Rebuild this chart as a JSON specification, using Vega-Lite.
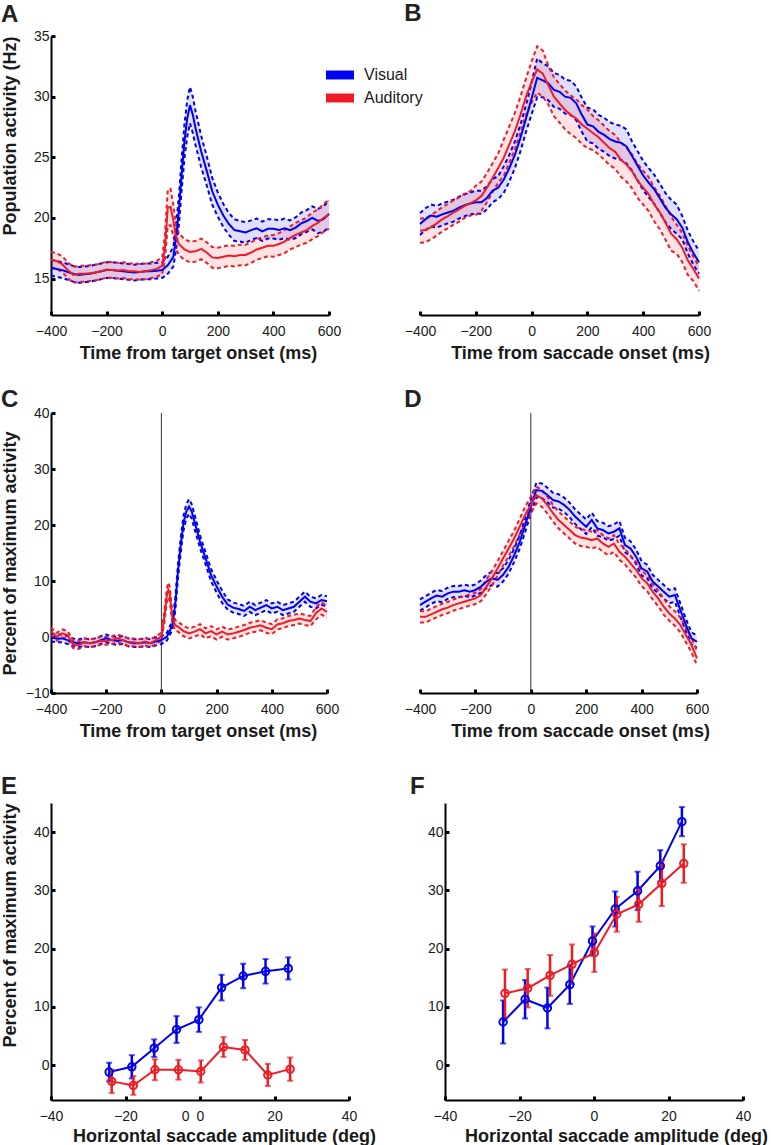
{
"$schema":"https://vega.github.io/schema/vega-lite/v6.json",
"background":"white",
"padding":{"left":0,"top":2,"right":5,"bottom":2},
"config":{
 "font":"Liberation Sans",
 "view":{"stroke":null},
 "axis":{"grid":false,"domainColor":"#000","domainWidth":2,"tickColor":"#000","tickWidth":3,"tickSize":-4,"labelFont":"Liberation Sans","labelFontSize":14,"labelColor":"#1a1a1a","titleFont":"Liberation Sans","titleFontSize":18,"titleFontWeight":"bold","titleColor":"#1a1a1a","labelFlush":false,"labelOverlap":false},
 "axisX":{"labelPadding":13,"titlePadding":6},
 "axisY":{"labelPadding":6,"titlePadding":6,"minExtent":26,"maxExtent":26},
 "title":{"font":"Liberation Sans","fontSize":24,"fontWeight":"bold","color":"#222","anchor":"start","frame":"bounds"}
},
"datasets":{
"A":[
{"c":"Visual","t":-400,"m":15.9,"s":0.65},{"c":"Visual","t":-380,"m":15.8,"s":0.65},{"c":"Visual","t":-360,"m":15.7,"s":0.65},{"c":"Visual","t":-340,"m":15.55,"s":0.65},{"c":"Visual","t":-320,"m":15.4,"s":0.65},{"c":"Visual","t":-300,"m":15.3,"s":0.65},{"c":"Visual","t":-280,"m":15.35,"s":0.65},{"c":"Visual","t":-260,"m":15.4,"s":0.65},{"c":"Visual","t":-240,"m":15.5,"s":0.65},{"c":"Visual","t":-220,"m":15.6,"s":0.65},{"c":"Visual","t":-200,"m":15.7,"s":0.65},{"c":"Visual","t":-180,"m":15.7,"s":0.65},{"c":"Visual","t":-160,"m":15.65,"s":0.65},{"c":"Visual","t":-140,"m":15.6,"s":0.65},{"c":"Visual","t":-120,"m":15.55,"s":0.65},{"c":"Visual","t":-100,"m":15.5,"s":0.65},{"c":"Visual","t":-80,"m":15.55,"s":0.65},{"c":"Visual","t":-60,"m":15.6,"s":0.65},{"c":"Visual","t":-40,"m":15.6,"s":0.65},{"c":"Visual","t":-20,"m":15.65,"s":0.65},{"c":"Visual","t":0,"m":15.7,"s":0.65},{"c":"Visual","t":20,"m":16.1,"s":0.7},{"c":"Visual","t":40,"m":16.8,"s":0.8},{"c":"Visual","t":50,"m":18.4,"s":1.0},{"c":"Visual","t":60,"m":20.6,"s":1.2},{"c":"Visual","t":70,"m":23.6,"s":1.3},{"c":"Visual","t":80,"m":26.3,"s":1.4},{"c":"Visual","t":90,"m":28.2,"s":1.5},{"c":"Visual","t":100,"m":29.3,"s":1.5},{"c":"Visual","t":110,"m":28.5,"s":1.5},{"c":"Visual","t":120,"m":27.4,"s":1.4},{"c":"Visual","t":140,"m":25.5,"s":1.3},{"c":"Visual","t":160,"m":23.9,"s":1.2},{"c":"Visual","t":180,"m":22.2,"s":1.1},{"c":"Visual","t":200,"m":21.1,"s":1.0},{"c":"Visual","t":220,"m":20.2,"s":0.95},{"c":"Visual","t":240,"m":19.5,"s":0.9},{"c":"Visual","t":260,"m":19.0,"s":0.9},{"c":"Visual","t":280,"m":18.9,"s":0.85},{"c":"Visual","t":300,"m":18.8,"s":0.85},{"c":"Visual","t":320,"m":19.0,"s":0.8},{"c":"Visual","t":340,"m":19.15,"s":0.8},{"c":"Visual","t":360,"m":18.9,"s":0.8},{"c":"Visual","t":380,"m":19.1,"s":0.8},{"c":"Visual","t":400,"m":19.1,"s":0.8},{"c":"Visual","t":420,"m":19.0,"s":0.8},{"c":"Visual","t":440,"m":19.15,"s":0.8},{"c":"Visual","t":460,"m":19.0,"s":0.8},{"c":"Visual","t":480,"m":19.2,"s":0.85},{"c":"Visual","t":500,"m":19.55,"s":0.9},{"c":"Visual","t":520,"m":19.75,"s":0.9},{"c":"Visual","t":540,"m":20.0,"s":0.95},{"c":"Visual","t":560,"m":19.75,"s":1.0},{"c":"Visual","t":580,"m":19.9,"s":1.05},{"c":"Visual","t":600,"m":20.35,"s":1.1},
{"c":"Auditory","t":-400,"m":16.55,"s":0.65},{"c":"Auditory","t":-380,"m":16.45,"s":0.65},{"c":"Auditory","t":-360,"m":16.2,"s":0.65},{"c":"Auditory","t":-340,"m":15.7,"s":0.65},{"c":"Auditory","t":-320,"m":15.3,"s":0.65},{"c":"Auditory","t":-300,"m":15.4,"s":0.65},{"c":"Auditory","t":-280,"m":15.4,"s":0.65},{"c":"Auditory","t":-260,"m":15.45,"s":0.65},{"c":"Auditory","t":-240,"m":15.5,"s":0.65},{"c":"Auditory","t":-220,"m":15.6,"s":0.65},{"c":"Auditory","t":-200,"m":15.75,"s":0.65},{"c":"Auditory","t":-180,"m":15.7,"s":0.65},{"c":"Auditory","t":-160,"m":15.65,"s":0.65},{"c":"Auditory","t":-140,"m":15.7,"s":0.65},{"c":"Auditory","t":-120,"m":15.6,"s":0.65},{"c":"Auditory","t":-100,"m":15.6,"s":0.65},{"c":"Auditory","t":-80,"m":15.55,"s":0.65},{"c":"Auditory","t":-60,"m":15.6,"s":0.65},{"c":"Auditory","t":-40,"m":15.7,"s":0.65},{"c":"Auditory","t":-20,"m":15.8,"s":0.65},{"c":"Auditory","t":0,"m":16.05,"s":0.7},{"c":"Auditory","t":10,"m":17.6,"s":1.0},{"c":"Auditory","t":20,"m":20.85,"s":1.5},{"c":"Auditory","t":30,"m":20.9,"s":1.5},{"c":"Auditory","t":40,"m":19.8,"s":1.3},{"c":"Auditory","t":50,"m":18.4,"s":1.0},{"c":"Auditory","t":60,"m":17.85,"s":0.9},{"c":"Auditory","t":80,"m":17.4,"s":0.85},{"c":"Auditory","t":100,"m":17.2,"s":0.85},{"c":"Auditory","t":120,"m":17.25,"s":0.85},{"c":"Auditory","t":140,"m":17.45,"s":0.85},{"c":"Auditory","t":160,"m":17.15,"s":0.85},{"c":"Auditory","t":180,"m":16.75,"s":0.85},{"c":"Auditory","t":200,"m":16.7,"s":0.85},{"c":"Auditory","t":220,"m":16.8,"s":0.85},{"c":"Auditory","t":240,"m":16.9,"s":0.85},{"c":"Auditory","t":260,"m":16.85,"s":0.85},{"c":"Auditory","t":280,"m":16.95,"s":0.85},{"c":"Auditory","t":300,"m":16.95,"s":0.85},{"c":"Auditory","t":320,"m":17.15,"s":0.85},{"c":"Auditory","t":340,"m":17.4,"s":0.85},{"c":"Auditory","t":360,"m":17.55,"s":0.85},{"c":"Auditory","t":380,"m":17.7,"s":0.85},{"c":"Auditory","t":400,"m":17.7,"s":0.9},{"c":"Auditory","t":420,"m":17.85,"s":0.9},{"c":"Auditory","t":440,"m":18.05,"s":0.95},{"c":"Auditory","t":460,"m":18.35,"s":0.95},{"c":"Auditory","t":480,"m":18.6,"s":1.0},{"c":"Auditory","t":500,"m":18.8,"s":1.0},{"c":"Auditory","t":520,"m":19.0,"s":1.05},{"c":"Auditory","t":540,"m":19.35,"s":1.1},{"c":"Auditory","t":560,"m":19.6,"s":1.1},{"c":"Auditory","t":580,"m":20.0,"s":1.15},{"c":"Auditory","t":600,"m":20.3,"s":1.2}
],
"B":[
{"c":"Visual","t":-400,"m":19.5,"s":0.9},{"c":"Visual","t":-380,"m":19.9,"s":0.9},{"c":"Visual","t":-360,"m":20.2,"s":0.9},{"c":"Visual","t":-340,"m":20.1,"s":0.9},{"c":"Visual","t":-320,"m":20.3,"s":0.9},{"c":"Visual","t":-300,"m":20.45,"s":0.9},{"c":"Visual","t":-280,"m":20.6,"s":0.9},{"c":"Visual","t":-260,"m":20.85,"s":0.9},{"c":"Visual","t":-240,"m":21.05,"s":0.9},{"c":"Visual","t":-220,"m":21.2,"s":0.9},{"c":"Visual","t":-200,"m":21.3,"s":0.95},{"c":"Visual","t":-180,"m":21.3,"s":0.95},{"c":"Visual","t":-160,"m":21.65,"s":0.95},{"c":"Visual","t":-140,"m":22.25,"s":0.95},{"c":"Visual","t":-120,"m":22.5,"s":0.95},{"c":"Visual","t":-100,"m":23.15,"s":1.1},{"c":"Visual","t":-80,"m":24.1,"s":1.1},{"c":"Visual","t":-60,"m":25.2,"s":1.1},{"c":"Visual","t":-40,"m":26.6,"s":1.1},{"c":"Visual","t":-20,"m":28.2,"s":1.1},{"c":"Visual","t":0,"m":29.85,"s":1.3},{"c":"Visual","t":20,"m":31.55,"s":1.6},{"c":"Visual","t":40,"m":31.35,"s":1.4},{"c":"Visual","t":60,"m":31.1,"s":1.4},{"c":"Visual","t":80,"m":30.55,"s":1.4},{"c":"Visual","t":100,"m":30.4,"s":1.4},{"c":"Visual","t":120,"m":30.0,"s":1.4},{"c":"Visual","t":140,"m":29.9,"s":1.4},{"c":"Visual","t":160,"m":29.45,"s":1.4},{"c":"Visual","t":180,"m":28.5,"s":1.4},{"c":"Visual","t":200,"m":27.7,"s":1.4},{"c":"Visual","t":220,"m":27.55,"s":1.4},{"c":"Visual","t":240,"m":27.1,"s":1.4},{"c":"Visual","t":260,"m":26.85,"s":1.4},{"c":"Visual","t":280,"m":26.5,"s":1.4},{"c":"Visual","t":300,"m":26.3,"s":1.4},{"c":"Visual","t":320,"m":26.2,"s":1.4},{"c":"Visual","t":340,"m":25.9,"s":1.4},{"c":"Visual","t":360,"m":25.1,"s":1.2},{"c":"Visual","t":380,"m":24.3,"s":1.2},{"c":"Visual","t":400,"m":23.5,"s":1.2},{"c":"Visual","t":420,"m":22.9,"s":1.2},{"c":"Visual","t":440,"m":22.35,"s":1.2},{"c":"Visual","t":460,"m":21.6,"s":1.2},{"c":"Visual","t":480,"m":20.85,"s":1.2},{"c":"Visual","t":500,"m":20.3,"s":1.2},{"c":"Visual","t":520,"m":19.9,"s":1.2},{"c":"Visual","t":540,"m":19.2,"s":0.95},{"c":"Visual","t":560,"m":18.0,"s":0.95},{"c":"Visual","t":580,"m":17.1,"s":0.95},{"c":"Visual","t":600,"m":16.35,"s":0.95},
{"c":"Auditory","t":-400,"m":18.95,"s":1.0},{"c":"Auditory","t":-380,"m":19.0,"s":1.0},{"c":"Auditory","t":-360,"m":19.25,"s":1.0},{"c":"Auditory","t":-340,"m":19.55,"s":1.0},{"c":"Auditory","t":-320,"m":19.9,"s":1.0},{"c":"Auditory","t":-300,"m":20.15,"s":1.0},{"c":"Auditory","t":-280,"m":20.45,"s":1.0},{"c":"Auditory","t":-260,"m":20.7,"s":1.0},{"c":"Auditory","t":-240,"m":21.0,"s":1.0},{"c":"Auditory","t":-220,"m":21.2,"s":1.0},{"c":"Auditory","t":-200,"m":21.45,"s":1.2},{"c":"Auditory","t":-180,"m":21.8,"s":1.2},{"c":"Auditory","t":-160,"m":22.5,"s":1.2},{"c":"Auditory","t":-140,"m":23.3,"s":1.2},{"c":"Auditory","t":-120,"m":24.1,"s":1.2},{"c":"Auditory","t":-100,"m":24.95,"s":1.5},{"c":"Auditory","t":-80,"m":26.05,"s":1.5},{"c":"Auditory","t":-60,"m":27.15,"s":1.5},{"c":"Auditory","t":-40,"m":28.5,"s":1.5},{"c":"Auditory","t":-20,"m":30.0,"s":1.5},{"c":"Auditory","t":0,"m":31.2,"s":1.7},{"c":"Auditory","t":20,"m":32.25,"s":1.9},{"c":"Auditory","t":40,"m":31.9,"s":1.9},{"c":"Auditory","t":60,"m":30.95,"s":1.6},{"c":"Auditory","t":80,"m":30.0,"s":1.6},{"c":"Auditory","t":100,"m":29.45,"s":1.6},{"c":"Auditory","t":120,"m":28.9,"s":1.6},{"c":"Auditory","t":140,"m":28.5,"s":1.6},{"c":"Auditory","t":160,"m":28.2,"s":1.6},{"c":"Auditory","t":180,"m":27.7,"s":1.6},{"c":"Auditory","t":200,"m":27.35,"s":1.6},{"c":"Auditory","t":220,"m":27.0,"s":1.4},{"c":"Auditory","t":240,"m":26.65,"s":1.4},{"c":"Auditory","t":260,"m":26.2,"s":1.4},{"c":"Auditory","t":280,"m":25.75,"s":1.4},{"c":"Auditory","t":300,"m":25.45,"s":1.4},{"c":"Auditory","t":320,"m":24.8,"s":1.4},{"c":"Auditory","t":340,"m":24.4,"s":1.4},{"c":"Auditory","t":360,"m":23.85,"s":1.4},{"c":"Auditory","t":380,"m":23.05,"s":1.4},{"c":"Auditory","t":400,"m":22.5,"s":1.4},{"c":"Auditory","t":420,"m":21.95,"s":1.4},{"c":"Auditory","t":440,"m":21.1,"s":1.4},{"c":"Auditory","t":460,"m":20.45,"s":1.4},{"c":"Auditory","t":480,"m":19.6,"s":1.4},{"c":"Auditory","t":500,"m":18.7,"s":1.4},{"c":"Auditory","t":520,"m":18.25,"s":1.2},{"c":"Auditory","t":540,"m":17.55,"s":1.2},{"c":"Auditory","t":560,"m":16.5,"s":1.2},{"c":"Auditory","t":580,"m":15.8,"s":1.0},{"c":"Auditory","t":600,"m":15.0,"s":1.0}
],
"C":[
{"c":"Visual","t":-400,"m":-0.1,"s":0.7},{"c":"Visual","t":-380,"m":-0.25,"s":0.7},{"c":"Visual","t":-360,"m":-0.25,"s":0.7},{"c":"Visual","t":-340,"m":-0.55,"s":0.7},{"c":"Visual","t":-320,"m":-0.95,"s":0.7},{"c":"Visual","t":-300,"m":-1.1,"s":0.7},{"c":"Visual","t":-280,"m":-0.95,"s":0.7},{"c":"Visual","t":-260,"m":-1.1,"s":0.7},{"c":"Visual","t":-240,"m":-0.95,"s":0.7},{"c":"Visual","t":-220,"m":-0.55,"s":0.7},{"c":"Visual","t":-200,"m":-0.25,"s":0.7},{"c":"Visual","t":-180,"m":-0.55,"s":0.7},{"c":"Visual","t":-160,"m":-0.7,"s":0.7},{"c":"Visual","t":-140,"m":-0.55,"s":0.7},{"c":"Visual","t":-120,"m":-0.95,"s":0.7},{"c":"Visual","t":-100,"m":-1.1,"s":0.7},{"c":"Visual","t":-80,"m":-1.1,"s":0.7},{"c":"Visual","t":-60,"m":-0.95,"s":0.7},{"c":"Visual","t":-40,"m":-1.1,"s":0.7},{"c":"Visual","t":-20,"m":-0.8,"s":0.7},{"c":"Visual","t":0,"m":-0.55,"s":0.7},{"c":"Visual","t":20,"m":0.05,"s":0.7},{"c":"Visual","t":40,"m":2.1,"s":0.8},{"c":"Visual","t":50,"m":5.7,"s":1.1},{"c":"Visual","t":60,"m":11.7,"s":1.3},{"c":"Visual","t":70,"m":16.4,"s":1.3},{"c":"Visual","t":80,"m":20.3,"s":1.3},{"c":"Visual","t":90,"m":22.4,"s":1.3},{"c":"Visual","t":100,"m":23.3,"s":1.3},{"c":"Visual","t":110,"m":22.4,"s":1.3},{"c":"Visual","t":120,"m":20.6,"s":1.3},{"c":"Visual","t":140,"m":17.0,"s":1.1},{"c":"Visual","t":160,"m":14.05,"s":1.1},{"c":"Visual","t":180,"m":11.05,"s":1.1},{"c":"Visual","t":200,"m":9.0,"s":1.1},{"c":"Visual","t":220,"m":7.2,"s":1.1},{"c":"Visual","t":240,"m":5.8,"s":0.9},{"c":"Visual","t":260,"m":5.25,"s":0.9},{"c":"Visual","t":280,"m":5.0,"s":0.9},{"c":"Visual","t":300,"m":4.65,"s":0.9},{"c":"Visual","t":320,"m":5.4,"s":0.9},{"c":"Visual","t":340,"m":4.8,"s":0.9},{"c":"Visual","t":360,"m":5.25,"s":0.9},{"c":"Visual","t":380,"m":5.7,"s":0.9},{"c":"Visual","t":400,"m":5.1,"s":0.9},{"c":"Visual","t":420,"m":5.4,"s":0.9},{"c":"Visual","t":440,"m":4.8,"s":0.9},{"c":"Visual","t":460,"m":5.1,"s":0.9},{"c":"Visual","t":480,"m":5.4,"s":0.9},{"c":"Visual","t":500,"m":6.3,"s":0.9},{"c":"Visual","t":520,"m":7.2,"s":0.9},{"c":"Visual","t":540,"m":6.3,"s":0.9},{"c":"Visual","t":560,"m":6.0,"s":0.9},{"c":"Visual","t":580,"m":6.6,"s":0.9},{"c":"Visual","t":600,"m":6.4,"s":0.9},
{"c":"Auditory","t":-400,"m":1.0,"s":0.7},{"c":"Auditory","t":-380,"m":0.05,"s":0.7},{"c":"Auditory","t":-360,"m":0.65,"s":0.7},{"c":"Auditory","t":-340,"m":0.35,"s":0.7},{"c":"Auditory","t":-320,"m":-1.3,"s":0.7},{"c":"Auditory","t":-300,"m":-1.45,"s":0.7},{"c":"Auditory","t":-280,"m":-0.95,"s":0.7},{"c":"Auditory","t":-260,"m":-1.1,"s":0.7},{"c":"Auditory","t":-240,"m":-0.95,"s":0.7},{"c":"Auditory","t":-220,"m":-0.7,"s":0.7},{"c":"Auditory","t":-200,"m":-0.7,"s":0.7},{"c":"Auditory","t":-180,"m":-0.55,"s":0.7},{"c":"Auditory","t":-160,"m":-0.25,"s":0.7},{"c":"Auditory","t":-140,"m":-0.55,"s":0.7},{"c":"Auditory","t":-120,"m":-0.95,"s":0.7},{"c":"Auditory","t":-100,"m":-0.95,"s":0.7},{"c":"Auditory","t":-80,"m":-1.1,"s":0.7},{"c":"Auditory","t":-60,"m":-0.8,"s":0.7},{"c":"Auditory","t":-40,"m":-1.1,"s":0.7},{"c":"Auditory","t":-20,"m":-0.55,"s":0.7},{"c":"Auditory","t":0,"m":0.05,"s":0.7},{"c":"Auditory","t":10,"m":3.3,"s":1.0},{"c":"Auditory","t":20,"m":7.5,"s":1.2},{"c":"Auditory","t":25,"m":8.4,"s":1.3},{"c":"Auditory","t":30,"m":7.8,"s":1.2},{"c":"Auditory","t":40,"m":3.3,"s":1.0},{"c":"Auditory","t":50,"m":2.1,"s":0.9},{"c":"Auditory","t":60,"m":1.85,"s":0.9},{"c":"Auditory","t":80,"m":1.05,"s":0.9},{"c":"Auditory","t":100,"m":0.65,"s":0.9},{"c":"Auditory","t":120,"m":0.95,"s":0.9},{"c":"Auditory","t":140,"m":1.4,"s":0.9},{"c":"Auditory","t":160,"m":0.65,"s":0.9},{"c":"Auditory","t":180,"m":1.05,"s":0.9},{"c":"Auditory","t":200,"m":0.45,"s":0.9},{"c":"Auditory","t":220,"m":0.95,"s":0.9},{"c":"Auditory","t":240,"m":0.45,"s":0.9},{"c":"Auditory","t":260,"m":0.65,"s":0.9},{"c":"Auditory","t":280,"m":0.95,"s":0.9},{"c":"Auditory","t":300,"m":1.25,"s":0.9},{"c":"Auditory","t":320,"m":1.65,"s":0.9},{"c":"Auditory","t":340,"m":1.85,"s":0.9},{"c":"Auditory","t":360,"m":2.1,"s":0.9},{"c":"Auditory","t":380,"m":1.65,"s":0.9},{"c":"Auditory","t":400,"m":1.4,"s":0.9},{"c":"Auditory","t":420,"m":2.25,"s":0.9},{"c":"Auditory","t":440,"m":2.45,"s":0.9},{"c":"Auditory","t":460,"m":2.85,"s":0.9},{"c":"Auditory","t":480,"m":3.05,"s":0.9},{"c":"Auditory","t":500,"m":3.3,"s":0.9},{"c":"Auditory","t":520,"m":3.05,"s":0.9},{"c":"Auditory","t":540,"m":2.85,"s":0.9},{"c":"Auditory","t":560,"m":4.25,"s":1.1},{"c":"Auditory","t":580,"m":5.1,"s":1.1},{"c":"Auditory","t":600,"m":4.5,"s":1.1}
],
"D":[
{"c":"Visual","t":-400,"m":5.7,"s":1.0},{"c":"Visual","t":-380,"m":6.3,"s":1.0},{"c":"Visual","t":-360,"m":6.9,"s":1.0},{"c":"Visual","t":-340,"m":7.4,"s":1.0},{"c":"Visual","t":-320,"m":7.2,"s":1.0},{"c":"Visual","t":-300,"m":7.8,"s":1.0},{"c":"Visual","t":-280,"m":8.1,"s":1.0},{"c":"Visual","t":-260,"m":8.1,"s":1.0},{"c":"Visual","t":-240,"m":8.35,"s":1.0},{"c":"Visual","t":-220,"m":8.1,"s":1.0},{"c":"Visual","t":-200,"m":8.4,"s":1.0},{"c":"Visual","t":-180,"m":9.0,"s":1.1},{"c":"Visual","t":-160,"m":9.9,"s":1.2},{"c":"Visual","t":-140,"m":10.5,"s":1.2},{"c":"Visual","t":-120,"m":10.2,"s":1.2},{"c":"Visual","t":-100,"m":11.1,"s":1.2},{"c":"Visual","t":-80,"m":12.55,"s":1.2},{"c":"Visual","t":-60,"m":14.6,"s":1.2},{"c":"Visual","t":-40,"m":17.0,"s":1.2},{"c":"Visual","t":-20,"m":20.0,"s":1.2},{"c":"Visual","t":0,"m":23.3,"s":1.3},{"c":"Visual","t":20,"m":26.25,"s":1.3},{"c":"Visual","t":40,"m":26.1,"s":1.3},{"c":"Visual","t":60,"m":25.35,"s":1.3},{"c":"Visual","t":80,"m":24.45,"s":1.3},{"c":"Visual","t":100,"m":24.2,"s":1.3},{"c":"Visual","t":120,"m":23.6,"s":1.3},{"c":"Visual","t":140,"m":22.7,"s":1.3},{"c":"Visual","t":160,"m":21.5,"s":1.3},{"c":"Visual","t":180,"m":20.6,"s":1.3},{"c":"Visual","t":200,"m":19.7,"s":1.3},{"c":"Visual","t":220,"m":20.9,"s":1.3},{"c":"Visual","t":240,"m":19.4,"s":1.3},{"c":"Visual","t":260,"m":19.1,"s":1.3},{"c":"Visual","t":280,"m":18.5,"s":1.3},{"c":"Visual","t":300,"m":18.8,"s":1.3},{"c":"Visual","t":320,"m":19.4,"s":1.3},{"c":"Visual","t":340,"m":16.4,"s":1.3},{"c":"Visual","t":360,"m":15.8,"s":1.3},{"c":"Visual","t":380,"m":14.35,"s":1.3},{"c":"Visual","t":400,"m":12.25,"s":1.3},{"c":"Visual","t":420,"m":11.7,"s":1.2},{"c":"Visual","t":440,"m":9.9,"s":1.2},{"c":"Visual","t":460,"m":9.0,"s":1.2},{"c":"Visual","t":480,"m":8.1,"s":1.2},{"c":"Visual","t":500,"m":7.2,"s":1.2},{"c":"Visual","t":520,"m":7.5,"s":1.2},{"c":"Visual","t":540,"m":4.8,"s":1.2},{"c":"Visual","t":560,"m":2.15,"s":1.1},{"c":"Visual","t":580,"m":-0.25,"s":1.1},{"c":"Visual","t":600,"m":-0.85,"s":1.1},
{"c":"Auditory","t":-400,"m":3.6,"s":1.0},{"c":"Auditory","t":-380,"m":3.6,"s":1.0},{"c":"Auditory","t":-360,"m":4.05,"s":1.0},{"c":"Auditory","t":-340,"m":4.5,"s":1.0},{"c":"Auditory","t":-320,"m":4.95,"s":1.0},{"c":"Auditory","t":-300,"m":5.25,"s":1.0},{"c":"Auditory","t":-280,"m":5.7,"s":1.0},{"c":"Auditory","t":-260,"m":6.0,"s":1.0},{"c":"Auditory","t":-240,"m":6.3,"s":1.0},{"c":"Auditory","t":-220,"m":6.6,"s":1.0},{"c":"Auditory","t":-200,"m":6.9,"s":1.0},{"c":"Auditory","t":-180,"m":7.5,"s":1.1},{"c":"Auditory","t":-160,"m":9.0,"s":1.3},{"c":"Auditory","t":-140,"m":10.5,"s":1.3},{"c":"Auditory","t":-120,"m":12.25,"s":1.3},{"c":"Auditory","t":-100,"m":14.05,"s":1.3},{"c":"Auditory","t":-80,"m":15.8,"s":1.4},{"c":"Auditory","t":-60,"m":17.6,"s":1.4},{"c":"Auditory","t":-40,"m":19.7,"s":1.4},{"c":"Auditory","t":-20,"m":21.8,"s":1.5},{"c":"Auditory","t":0,"m":23.55,"s":1.5},{"c":"Auditory","t":20,"m":25.35,"s":1.5},{"c":"Auditory","t":40,"m":24.75,"s":1.5},{"c":"Auditory","t":60,"m":23.55,"s":1.5},{"c":"Auditory","t":80,"m":22.1,"s":1.5},{"c":"Auditory","t":100,"m":20.9,"s":1.5},{"c":"Auditory","t":120,"m":20.0,"s":1.5},{"c":"Auditory","t":140,"m":19.1,"s":1.5},{"c":"Auditory","t":160,"m":18.2,"s":1.5},{"c":"Auditory","t":180,"m":17.75,"s":1.5},{"c":"Auditory","t":200,"m":17.6,"s":1.5},{"c":"Auditory","t":220,"m":17.3,"s":1.5},{"c":"Auditory","t":240,"m":17.6,"s":1.5},{"c":"Auditory","t":260,"m":16.7,"s":1.5},{"c":"Auditory","t":280,"m":16.1,"s":1.5},{"c":"Auditory","t":300,"m":16.7,"s":1.5},{"c":"Auditory","t":320,"m":15.2,"s":1.4},{"c":"Auditory","t":340,"m":14.35,"s":1.4},{"c":"Auditory","t":360,"m":13.15,"s":1.4},{"c":"Auditory","t":380,"m":12.0,"s":1.4},{"c":"Auditory","t":400,"m":10.5,"s":1.4},{"c":"Auditory","t":420,"m":9.6,"s":1.4},{"c":"Auditory","t":440,"m":8.1,"s":1.4},{"c":"Auditory","t":460,"m":6.9,"s":1.4},{"c":"Auditory","t":480,"m":5.4,"s":1.4},{"c":"Auditory","t":500,"m":4.2,"s":1.3},{"c":"Auditory","t":520,"m":3.3,"s":1.3},{"c":"Auditory","t":540,"m":2.15,"s":1.3},{"c":"Auditory","t":560,"m":0.35,"s":1.3},{"c":"Auditory","t":580,"m":-1.4,"s":1.3},{"c":"Auditory","t":600,"m":-3.8,"s":1.3}
],
"E":[
{"c":"Visual","x":-24.4,"m":-1.2,"s":1.6},{"c":"Visual","x":-18.3,"m":-0.3,"s":2.0},{"c":"Visual","x":-12.3,"m":2.9,"s":1.5},{"c":"Visual","x":-6.3,"m":6.1,"s":2.3},{"c":"Visual","x":-0.3,"m":7.8,"s":2.1},{"c":"Visual","x":5.8,"m":13.3,"s":2.2},{"c":"Visual","x":11.6,"m":15.3,"s":2.1},{"c":"Visual","x":17.6,"m":16.1,"s":2.1},{"c":"Visual","x":23.7,"m":16.6,"s":1.9},
{"c":"Auditory","x":-23.7,"m":-2.8,"s":2.0},{"c":"Auditory","x":-17.9,"m":-3.5,"s":1.6},{"c":"Auditory","x":-12.1,"m":-0.8,"s":1.8},{"c":"Auditory","x":-5.8,"m":-0.8,"s":1.7},{"c":"Auditory","x":0.2,"m":-1.1,"s":1.9},{"c":"Auditory","x":6.3,"m":3.1,"s":1.7},{"c":"Auditory","x":12.1,"m":2.6,"s":1.7},{"c":"Auditory","x":18.2,"m":-1.7,"s":1.9},{"c":"Auditory","x":24.2,"m":-0.7,"s":2.0}
],
"F":[
{"c":"Visual","x":-24.4,"m":7.4,"s":3.7},{"c":"Visual","x":-18.5,"m":11.3,"s":3.3},{"c":"Visual","x":-12.5,"m":9.8,"s":3.5},{"c":"Visual","x":-6.5,"m":13.8,"s":3.3},{"c":"Visual","x":-0.4,"m":21.3,"s":2.5},{"c":"Visual","x":5.7,"m":26.8,"s":3.0},{"c":"Visual","x":11.7,"m":29.9,"s":3.3},{"c":"Visual","x":17.8,"m":34.2,"s":2.7},{"c":"Visual","x":23.6,"m":41.8,"s":2.5},
{"c":"Auditory","x":-23.9,"m":12.3,"s":4.1},{"c":"Auditory","x":-17.8,"m":13.2,"s":3.3},{"c":"Auditory","x":-11.8,"m":15.4,"s":3.5},{"c":"Auditory","x":-5.9,"m":17.3,"s":3.4},{"c":"Auditory","x":0.1,"m":19.3,"s":3.3},{"c":"Auditory","x":6.1,"m":25.9,"s":3.0},{"c":"Auditory","x":12.0,"m":27.6,"s":3.0},{"c":"Auditory","x":18.2,"m":31.2,"s":3.9},{"c":"Auditory","x":24.1,"m":34.6,"s":3.3}
]
},
"vconcat":[
 {"vconcat":[
  {"hconcat":[
   {"width":278,"height":279,"title":{"text":"A","offset":2},"data":{"name":"A"},
    "layer":[
     {"mark":{"type":"errorband","band":{"opacity":0.12},"borders":{"strokeDash":[4,3],"strokeWidth":2}},
      "encoding":{
       "x":{"field":"t","type":"quantitative","scale":{"domain":[-400,600],"nice":false},"axis":{"title":"Time from target onset (ms)","values":[-400,-200,0,200,400,600],"titleX":147}},
       "y":{"field":"m","type":"quantitative","scale":{"domain":[12,35],"nice":false},"axis":{"title":"Population activity (Hz)","values":[15,20,25,30,35],"titleAnchor":"end"}},
       "yError":{"field":"s"},
       "color":{"field":"c","type":"nominal","scale":{"domain":["Visual","Auditory"],"range":["#0000f0","#ee1c24"]},
        "legend":{"orient":"none","legendX":281,"legendY":31,"title":null,"padding":0,"symbolType":"M-2,-0.64H2V0.64H-2Z","symbolSize":196,"symbolStrokeWidth":0,"symbolOpacity":1,"labelFont":"Liberation Sans","labelFontSize":16,"labelColor":"#1a1a1a","labelOffset":16,"rowPadding":7,
         "encode":{"symbols":{"update":{"fill":{"signal":"datum.value === 'Visual' ? '#0000f0' : '#ee1c24'"},"stroke":{"value":"transparent"},"opacity":{"value":1}}}}}}
      }},
     {"mark":{"type":"line","strokeWidth":2},
      "encoding":{
       "x":{"field":"t","type":"quantitative"},
       "y":{"field":"m","type":"quantitative"},
       "color":{"field":"c","type":"nominal","scale":{"domain":["Visual","Auditory"],"range":["#0000f0","#ee1c24"]}}
      }}
    ]},
   {"width":279,"height":279,"title":{"text":"B","offset":10},"data":{"name":"B"},
    "layer":[
     {"mark":{"type":"errorband","band":{"opacity":0.12},"borders":{"strokeDash":[4,3],"strokeWidth":2}},
      "encoding":{
       "x":{"field":"t","type":"quantitative","scale":{"domain":[-400,600],"nice":false},"axis":{"title":"Time from saccade onset (ms)","values":[-400,-200,0,200,400,600],"titleX":160}},
       "y":{"field":"m","type":"quantitative","scale":{"domain":[12,35],"nice":false},"axis":null},
       "yError":{"field":"s"},
       "color":{"field":"c","type":"nominal","scale":{"domain":["Visual","Auditory"],"range":["#0000f0","#ee1c24"]},"legend":null}
      }},
     {"mark":{"type":"line","strokeWidth":2},
      "encoding":{
       "x":{"field":"t","type":"quantitative"},
       "y":{"field":"m","type":"quantitative"},
       "color":{"field":"c","type":"nominal","scale":{"domain":["Visual","Auditory"],"range":["#0000f0","#ee1c24"]},"legend":null}
      }}
    ]}
  ],"spacing":91,"bounds":"flush","resolve":{"scale":{"color":"independent"},"legend":{"color":"independent"}}},
  {"hconcat":[
   {"width":276,"height":280,"title":{"text":"C","offset":-6},"data":{"name":"C"},
    "layer":[
     {"data":{"values":[{"t":0}]},"mark":{"type":"rule","color":"#333","strokeWidth":1},"encoding":{"x":{"field":"t","type":"quantitative"}}},
     {"mark":{"type":"errorband","band":{"opacity":0.12},"borders":{"strokeDash":[4,3],"strokeWidth":2}},
      "encoding":{
       "x":{"field":"t","type":"quantitative","scale":{"domain":[-400,600],"nice":false},"axis":{"title":"Time from target onset (ms)","values":[-400,-200,0,200,400,600],"titleX":147}},
       "y":{"field":"m","type":"quantitative","scale":{"domain":[-10,40],"nice":false},"axis":{"title":"Percent of maximum activity","values":[-10,0,10,20,30,40]}},
       "yError":{"field":"s"},
       "color":{"field":"c","type":"nominal","scale":{"domain":["Visual","Auditory"],"range":["#0000f0","#ee1c24"]},"legend":null}
      }},
     {"mark":{"type":"line","strokeWidth":2},
      "encoding":{
       "x":{"field":"t","type":"quantitative"},
       "y":{"field":"m","type":"quantitative"},
       "color":{"field":"c","type":"nominal","scale":{"domain":["Visual","Auditory"],"range":["#0000f0","#ee1c24"]},"legend":null}
      }}
    ]},
   {"width":277,"height":280,"title":{"text":"D","offset":1},"data":{"name":"D"},
    "layer":[
     {"data":{"values":[{"t":0}]},"mark":{"type":"rule","color":"#333","strokeWidth":1},"encoding":{"x":{"field":"t","type":"quantitative"}}},
     {"mark":{"type":"errorband","band":{"opacity":0.12},"borders":{"strokeDash":[4,3],"strokeWidth":2}},
      "encoding":{
       "x":{"field":"t","type":"quantitative","scale":{"domain":[-400,600],"nice":false},"axis":{"title":"Time from saccade onset (ms)","values":[-400,-200,0,200,400,600],"titleX":160}},
       "y":{"field":"m","type":"quantitative","scale":{"domain":[-10,40],"nice":false},"axis":null},
       "yError":{"field":"s"},
       "color":{"field":"c","type":"nominal","scale":{"domain":["Visual","Auditory"],"range":["#0000f0","#ee1c24"]},"legend":null}
      }},
     {"mark":{"type":"line","strokeWidth":2},
      "encoding":{
       "x":{"field":"t","type":"quantitative"},
       "y":{"field":"m","type":"quantitative"},
       "color":{"field":"c","type":"nominal","scale":{"domain":["Visual","Auditory"],"range":["#0000f0","#ee1c24"]},"legend":null}
      }}
    ]}
  ],"spacing":93,"bounds":"flush","resolve":{"scale":{"color":"independent"},"legend":{"color":"independent"}}}
 ],"spacing":25,"resolve":{"scale":{"color":"independent"},"legend":{"color":"independent"}}},
 {"hconcat":[
   {"width":298,"height":297,"title":{"text":"E","offset":4},"data":{"name":"E"},
    "layer":[
     {"mark":{"type":"line","strokeWidth":2},
      "encoding":{
       "x":{"field":"x","type":"quantitative","scale":{"domain":[-40,40],"nice":false},"axis":{"title":"Horizontal saccade amplitude (deg)","values":[-40,-20,-4,0,20,40],"labelExpr":"datum.value == -4 ? '0' : datum.label","tickOpacity":{"condition":{"test":"datum.value == -4","value":0},"value":1},"titleX":173,"titlePadding":4}},
       "y":{"field":"m","type":"quantitative","title":"Percent of maximum activity","scale":{"domain":[-6,45],"nice":false},"axis":{"title":"Percent of maximum activity","values":[0,10,20,30,40],"titleAnchor":"end"}},
       "color":{"field":"c","type":"nominal","scale":{"domain":["Visual","Auditory"],"range":["#0000f0","#ee1c24"]},"legend":null}
      }},
     {"mark":{"type":"errorbar","thickness":2.5,"ticks":{"size":6,"thickness":2}},
      "encoding":{
       "x":{"field":"x","type":"quantitative","title":"Horizontal saccade amplitude (deg)"},
       "y":{"field":"m","type":"quantitative","title":"Percent of maximum activity"},
       "yError":{"field":"s"},
       "color":{"field":"c","type":"nominal","scale":{"domain":["Visual","Auditory"],"range":["#0000f0","#ee1c24"]},"legend":null}
      }},
     {"mark":{"type":"point","filled":false,"size":55,"strokeWidth":2,"opacity":1},
      "encoding":{
       "x":{"field":"x","type":"quantitative","title":"Horizontal saccade amplitude (deg)"},
       "y":{"field":"m","type":"quantitative","title":"Percent of maximum activity"},
       "color":{"field":"c","type":"nominal","scale":{"domain":["Visual","Auditory"],"range":["#0000f0","#ee1c24"]},"legend":null}
      }}
    ]},
   {"width":298,"height":297,"title":{"text":"F","offset":4,"dx":-9},"data":{"name":"F"},
    "layer":[
     {"mark":{"type":"line","strokeWidth":2},
      "encoding":{
       "x":{"field":"x","type":"quantitative","scale":{"domain":[-40,40],"nice":false},"axis":{"title":"Horizontal saccade amplitude (deg)","values":[-40,-20,0,20,40],"titleX":171,"titlePadding":4}},
       "y":{"field":"m","type":"quantitative","scale":{"domain":[-6,45],"nice":false},"axis":{"title":null,"values":[0,10,20,30,40]}},
       "color":{"field":"c","type":"nominal","scale":{"domain":["Visual","Auditory"],"range":["#0000f0","#ee1c24"]},"legend":null}
      }},
     {"mark":{"type":"errorbar","thickness":2.5,"ticks":{"size":6,"thickness":2}},
      "encoding":{
       "x":{"field":"x","type":"quantitative","title":"Horizontal saccade amplitude (deg)"},
       "y":{"field":"m","type":"quantitative","title":null},
       "yError":{"field":"s"},
       "color":{"field":"c","type":"nominal","scale":{"domain":["Visual","Auditory"],"range":["#0000f0","#ee1c24"]},"legend":null}
      }},
     {"mark":{"type":"point","filled":false,"size":55,"strokeWidth":2,"opacity":1},
      "encoding":{
       "x":{"field":"x","type":"quantitative","title":"Horizontal saccade amplitude (deg)"},
       "y":{"field":"m","type":"quantitative","title":null},
       "color":{"field":"c","type":"nominal","scale":{"domain":["Visual","Auditory"],"range":["#0000f0","#ee1c24"]},"legend":null}
      }}
    ]}
 ],"spacing":96,"bounds":"flush","resolve":{"scale":{"color":"independent"},"legend":{"color":"independent"}}}
],
"spacing":35,"resolve":{"scale":{"color":"independent"},"legend":{"color":"independent"}}
}
